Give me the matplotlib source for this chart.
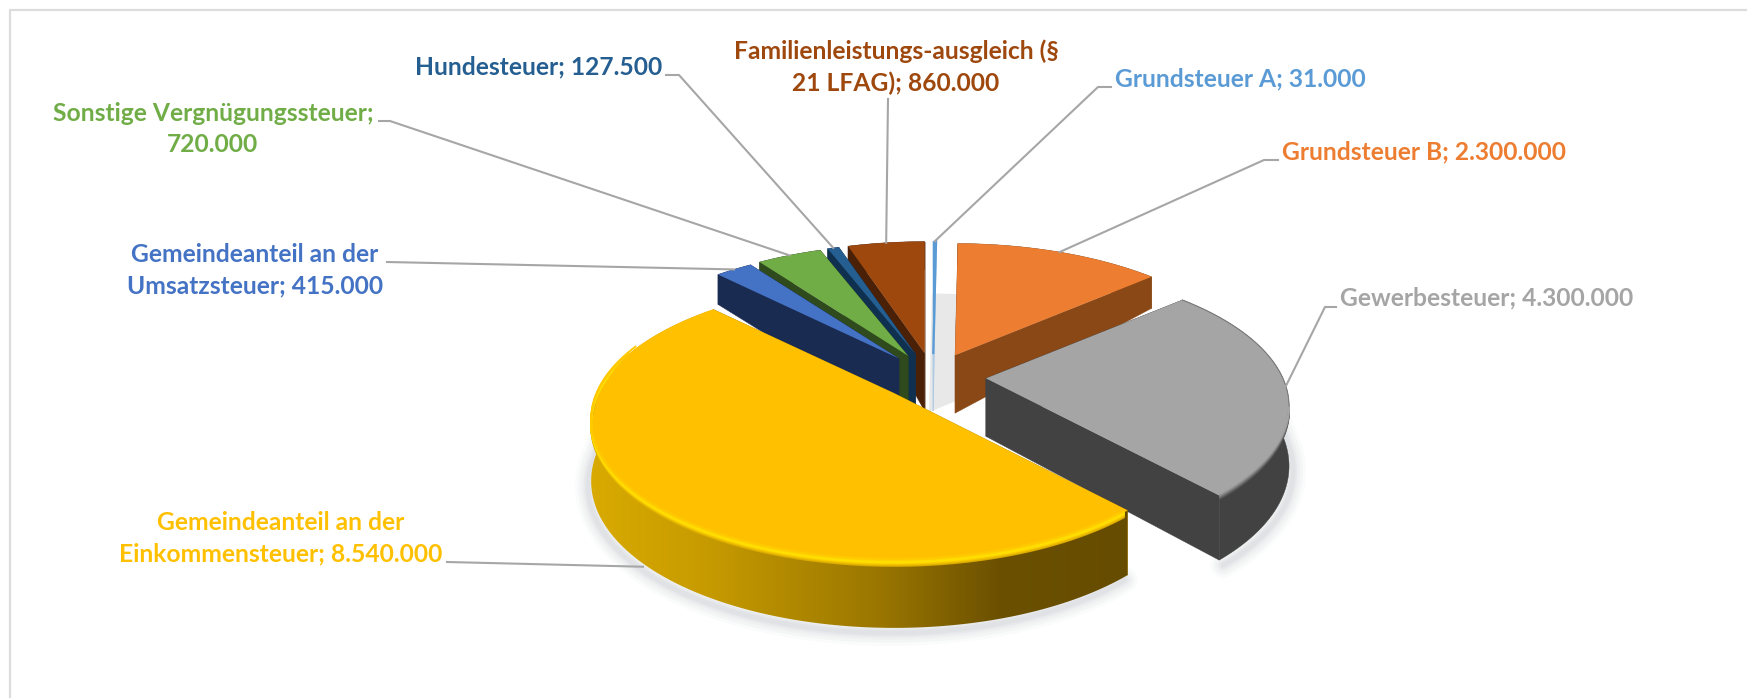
import numpy as np
import matplotlib
matplotlib.use('AGG')
import matplotlib.pyplot as plt
from matplotlib.colors import to_rgb
from matplotlib.patches import Polygon

# Werte im Uhrzeigersinn ab 12 Uhr
names = ['Grundsteuer A', 'Grundsteuer B', 'Gewerbesteuer',
         'Gemeindeanteil Einkommensteuer', 'Gemeindeanteil Umsatzsteuer',
         'Sonstige Vergnügungssteuer', 'Hundesteuer', 'Familienleistungsausgleich']
values = [31000, 2300000, 4300000, 8540000, 415000, 720000, 127500, 860000]
label_texts = ['Grundsteuer A; 31.000',
               'Grundsteuer B; 2.300.000',
               'Gewerbesteuer; 4.300.000',
               'Gemeindeanteil an der\nEinkommensteuer; 8.540.000',
               'Gemeindeanteil an der\nUmsatzsteuer; 415.000',
               'Sonstige Vergnügungssteuer;\n720.000',
               'Hundesteuer; 127.500',
               'Familienleistungs-ausgleich (§\n21 LFAG); 860.000']

top_colors = ['#5b9bd5', '#ed7d31', '#a5a5a5', '#ffc000',
              '#4472c4', '#70ad47', '#255e91', '#9e480e']
side_colors = ['#a9c8e4', '#8a4816', '#424242', '#b58a00',
               '#1a2b52', '#2f4a1c', '#10304f', '#4a2007']

# Mittelpunkt der Beschriftung, Knick der Linie
label_pos = [(1240, 79), (1424, 152), (1487, 298), (281, 538),
             (255, 270), (213, 129), (539, 67), (896, 67)]
elbow_a = [(1111, 87), (1278, 160), (1336, 307), (447, 562),
           (387, 262), (379, 121), (666, 75), (888, 99)]
elbow_b = [(1098, 87), (1264, 160), (1325, 307), (447, 562),
           (387, 262), (390, 121), (679, 75), (888, 99)]

# Projektion
CX, CY = 933, 377
EX, EY = 53, 24
RX, RY = 297, 134
PERSP = 0.2


def project(theta, apex):
    X, Y = np.sin(theta), np.cos(theta)
    s = 1 / (1 + PERSP * Y)
    return apex[0] + RX * X * s, apex[1] - RY * Y * s


def height(theta):
    return np.interp(np.cos(theta), [-1, 0, 0.7, 1], [67, 58, 30, 28])


fig = plt.figure(figsize=(17.47, 6.98), dpi=100)
ax = fig.add_axes([0, 0, 1, 1])

# Rahmen
ax.plot([10, 10, 1747], [698, 10, 10], color='#dcdcdc', lw=1.6, zorder=1)

total = sum(values)
edges = np.concatenate([[0], np.cumsum(values)]) / total * 2 * np.pi
apexes = []
for i in range(len(values)):
    mid = (edges[i] + edges[i + 1]) / 2
    apexes.append((CX + EX * np.sin(mid), CY - EY * np.cos(mid)))

z = 2
# Schatten
for i in [1, 2, 3]:
    t = np.linspace(edges[i], edges[i + 1], 120)
    x, y = project(t, apexes[i])
    y2 = y + height(t)
    if i == 1:
        ax.fill(np.r_[apexes[i][0], x] - 26, np.r_[apexes[i][1] + 57, y2 + 22],
                color='#e8e8e8', lw=0, zorder=z)
    else:
        for w, a in zip([26, 20, 14, 9, 5], [0.04, 0.05, 0.06, 0.07, 0.08]):
            ax.plot(x - 3 if i == 3 else x + 4, y2 + 5, color='#959aa3', lw=w * 0.72,
                    alpha=a, solid_capstyle='round', zorder=z)

# Verlauf des gelben Mantels
grad_x = np.arange(570, 1140)
grad_img = np.zeros((1, len(grad_x), 3))
for c, (a, b, d, e, f) in enumerate(zip(to_rgb('#d9aa00'), to_rgb('#c89c00'),
                                        to_rgb('#9a7600'), to_rgb('#6b5000'),
                                        to_rgb('#664c00'))):
    grad_img[0, :, c] = np.interp(grad_x, [590, 700, 880, 1000, 1130], [a, b, d, e, f])

# Reihenfolge von hinten nach vorne
order = [0, 7, 6, 5, 4, 1, 2, 3]
for i in order:
    z += 1
    t = np.linspace(edges[i], edges[i + 1], 240)
    apex = apexes[i]
    x, y = project(t, apex)
    h = height(t)
    ap_h = height(np.pi / 2)
    mid = (edges[i] + edges[i + 1]) / 2

    def cut(theta):
        px, py = project(theta, apex)
        return ([apex[0], px, px, apex[0]],
                [apex[1], py, py + height(theta), apex[1] + ap_h])

    faces = [edges[i], edges[i + 1]]
    if mid > np.pi:
        faces = faces[::-1]
    for f in faces:
        cx_, cy_ = cut(f)
        ax.fill(cx_, cy_, color=side_colors[i], lw=0.3, zorder=z)

    # Mantel
    rim_x = np.r_[x, x[::-1]]
    rim_y = np.r_[y, (y + h)[::-1]]
    if i == 3:
        img = ax.imshow(grad_img, extent=(570, 1140, 698, 0), aspect='auto', zorder=z)
        img.set_clip_path(Polygon(np.c_[rim_x, rim_y], transform=ax.transData))
    else:
        ax.fill(rim_x, rim_y, color=side_colors[i], lw=0.3, zorder=z)

    # Deckfläche
    ax.fill(np.r_[apex[0], x], np.r_[apex[1], y], color=top_colors[i], lw=0, zorder=z)
    if i == 0:
        ax.plot([apex[0], x[-1]], [apex[1], y[-1]], color=top_colors[i], lw=1.6, zorder=z)

    # weiche Kante oben
    if i == 3:
        for k, c in zip([5, 4, 3, 2, 1, 0, -1, -2],
                        ['#d9aa00', '#e8b800', '#f5c800', '#ffd800', '#ffe100', '#ffdc00',
                         '#ffd000', '#ffc800']):
            keep = (t > edges[i] + 0.01) & (t < np.radians(285) - k * 0.06)
            ax.plot(x[keep], y[keep] + k, color=c, lw=1.4, zorder=z,
                    solid_capstyle='butt')
    if i == 2:
        keep = (np.sin(t) < 0.98) & (t > np.pi / 2)
        for k, c in zip([4, 3, 2, 1, 0, -1, -2],
                        ['#4f4f4f', '#5e5e5e', '#6e6e6e', '#808080', '#8f8f8f', '#9c9c9c',
                         '#a5a5a5']):
            ax.plot(x[keep], y[keep] + k, color=c, lw=1.3, zorder=z,
                    solid_capstyle='butt')
        ax.plot(x[~keep], y[~keep], color='#7c7c7c', lw=0.8, zorder=z)

# Beschriftungen und Linien
z += 1
for i, txt in enumerate(label_texts):
    mid = (edges[i] + edges[i + 1]) / 2
    ax_, ay_ = project(mid, apexes[i])
    if i == 3:
        ay_ += height(mid) * 1.05
    ax.plot([elbow_a[i][0], elbow_b[i][0], ax_], [elbow_a[i][1], elbow_b[i][1], ay_],
            color='#a6a6a6', lw=1.5, zorder=z)
    ax.text(label_pos[i][0], label_pos[i][1], txt, color=top_colors[i],
            family='Lato', weight='bold', fontsize=17.7, ha='center', va='center',
            linespacing=1.42, zorder=z + 1)

ax.set_xlim(0, 1747)
ax.set_ylim(698, 0)
ax.axis('off')

fig.savefig('out.png', dpi=100)
